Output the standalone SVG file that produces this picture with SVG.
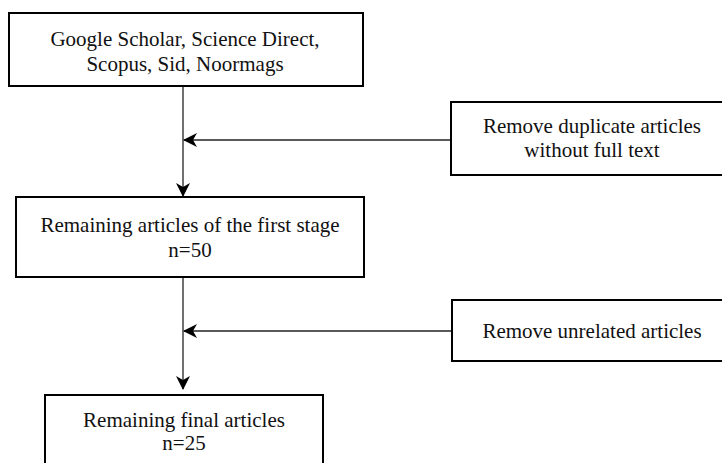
<svg xmlns="http://www.w3.org/2000/svg" width="722" height="463" viewBox="0 0 722 463">
<style>
.box{fill:#fff;stroke:#000;stroke-width:2}
.t{font-family:"Liberation Serif","Times New Roman",serif;font-size:21px;fill:#111;text-anchor:middle}
.c{stroke:#222;stroke-width:1.3;fill:none}
</style>
<defs>
<marker id="ah" viewBox="0 0 14 14" refX="13" refY="7" markerWidth="14" markerHeight="14" markerUnits="userSpaceOnUse" orient="auto">
<path d="M0,0 L14,7 L0,14 L4,7 Z" fill="#000"/>
</marker>
</defs>
<rect width="722" height="463" fill="#fff"/>
<g id="connectors">
<line class="c" x1="183" y1="86" x2="183" y2="196" marker-end="url(#ah)"/>
<line class="c" x1="451" y1="140" x2="184" y2="140" marker-end="url(#ah)"/>
<line class="c" x1="183" y1="277" x2="183" y2="389" marker-end="url(#ah)"/>
<line class="c" x1="452" y1="331" x2="184" y2="331" marker-end="url(#ah)"/>
</g>
<g id="sources">
<rect class="box" x="9" y="13" width="354" height="73"/>
<text class="t" x="185" y="46">Google Scholar, Science Direct,</text>
<text class="t" x="185" y="71">Scopus, Sid, Noormags</text>
</g>
<g id="remove-duplicate">
<rect class="box" x="451" y="102" width="290" height="73"/>
<text class="t" x="592" y="133">Remove duplicate articles</text>
<text class="t" x="592" y="157">without full text</text>
</g>
<g id="remaining-first">
<rect class="box" x="16" y="197" width="348" height="80"/>
<text class="t" x="190" y="232">Remaining articles of the first stage</text>
<text class="t" x="190" y="257">n=50</text>
</g>
<g id="remove-unrelated">
<rect class="box" x="452" y="300" width="290" height="61"/>
<text class="t" x="592" y="338">Remove unrelated articles</text>
</g>
<g id="remaining-final">
<rect class="box" x="45" y="395" width="278" height="80"/>
<text class="t" x="184" y="427">Remaining final articles</text>
<text class="t" x="184" y="450">n=25</text>
</g>
</svg>
